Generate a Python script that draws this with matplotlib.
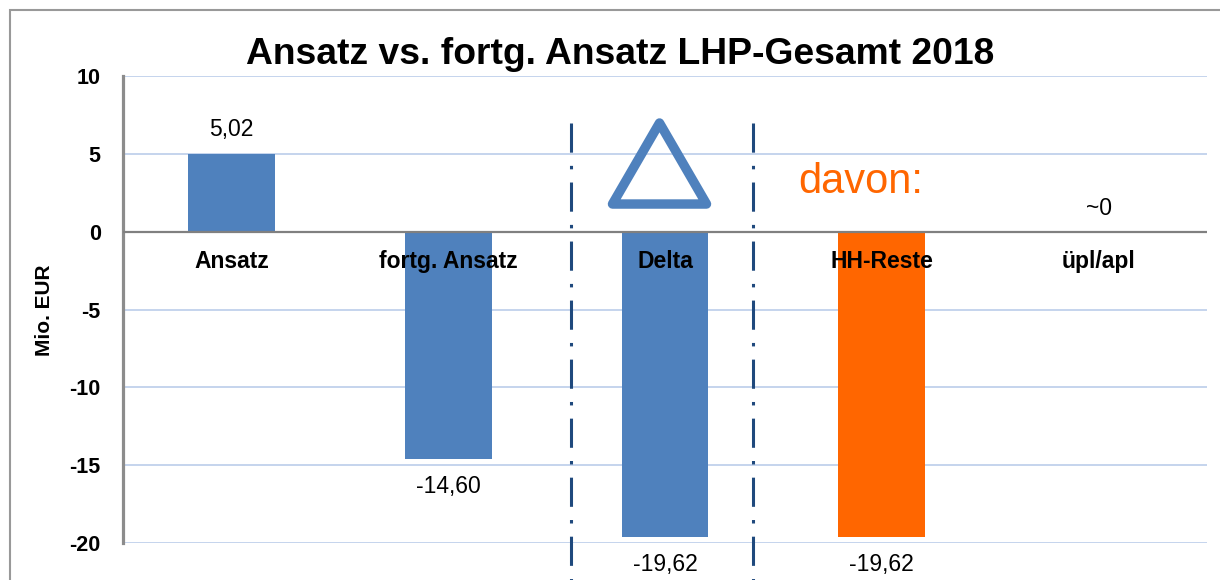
import numpy as np
import matplotlib
matplotlib.use("Agg")
import matplotlib.pyplot as plt
from matplotlib.path import Path
from matplotlib.markers import MarkerStyle
from matplotlib.patches import Rectangle

plt.rcParams['font.family'] = ['Liberation Sans', 'DejaVu Sans']
plt.rcParams['lines.scale_dashes'] = False

# data
categories = ['Ansatz', 'fortg. Ansatz', 'Delta', 'HH-Reste', 'üpl/apl']
values = [5.02, -14.60, -19.62, -19.62, 0.0]
value_labels = ['5,02', '-14,60', '-19,62', '-19,62', '~0']
bar_colors = ['#4f81bd', '#4f81bd', '#4f81bd', '#ff6600', '#4f81bd']
yticks = [-20, -15, -10, -5, 0, 5, 10]

blue = '#4f81bd'
navy = '#1f497d'
orange = '#ff6600'

fig = plt.figure(figsize=(12.2, 5.8), dpi=100)
ax = fig.add_axes([123 / 1220, 1 - 543 / 580, (1207 - 123) / 1220, (543 - 76) / 580])

x = np.arange(len(categories))
ax.bar(x, values, width=0.4, color=bar_colors, zorder=3)

ax.set_xlim(-0.5, len(categories) - 0.5)
ax.set_ylim(-20, 10)
ax.set_yticks(yticks)
ax.set_yticklabels([str(t) for t in yticks], fontsize=15.5, fontweight='bold')
ax.tick_params(axis='y', length=0, pad=16)
ax.set_xticks([])

# grid
for t in yticks:
    if t == 0:
        continue
    ax.axhline(t, color='#c0d1ec', lw=1.3, zorder=1)
ax.axhline(0, color='#808080', lw=1.6, zorder=4)

for s in ['top', 'right', 'bottom']:
    ax.spines[s].set_visible(False)
ax.spines['left'].set_color('#8c8c8c')
ax.spines['left'].set_linewidth(2.3)

# value labels
for xi, v, lab in zip(x, values, value_labels):
    off = 17 if v >= 0 else -20
    ax.annotate(lab, (xi, v), xytext=(0, off), textcoords='offset points',
                ha='center', va='center', fontsize=16.5, zorder=6)

# category labels inside plot, below zero line
for xi, c in zip(x, categories):
    ax.annotate(c, (xi, 0), xytext=(0, -21.5), textcoords='offset points',
                ha='center', va='center', fontsize=16.5, fontweight='bold', zorder=6)

# dash-dot separators around Delta
sep_x = [1.566, 2.406]
for sx in sep_x:
    ax.plot([sx, sx], [7.0, -23.5], color=navy, lw=2.2,
            linestyle=(0, (21, 9.5, 2.5, 9.5)), clip_on=False, zorder=5)

# triangle (Delta symbol)
h = 0.862
tri = Path([(-1, -h), (1, -h), (0, h), (0, 0)],
           [Path.MOVETO, Path.LINETO, Path.LINETO, Path.CLOSEPOLY])
ax.plot([1.972], [4.4], marker=MarkerStyle(tri, joinstyle='bevel'),
        markersize=67.7, markerfacecolor='none', markeredgecolor=blue,
        markeredgewidth=6.8, linestyle='none', zorder=5, clip_on=False)

ax.text(2.613, 2.5, 'davon:', color=orange, fontsize=30,
        ha='left', va='baseline', zorder=6)

# title and y label
fig.text(620 / 1220, 1 - 64 / 580, 'Ansatz vs. fortg. Ansatz LHP-Gesamt 2018',
         ha='center', va='baseline', fontsize=26.8, fontweight='bold')
fig.text(45 / 1220, 1 - 310 / 580, 'Mio. EUR', rotation=90, ha='center',
         va='center', fontsize=15, fontweight='bold')

# outer frame
fig.patches.append(Rectangle((10 / 1220, -0.2), 1.5, 1.2 - 10 / 580,
                             transform=fig.transFigure, fill=False,
                             edgecolor='#999999', lw=1.5))

fig.savefig('out.png', dpi=100)
